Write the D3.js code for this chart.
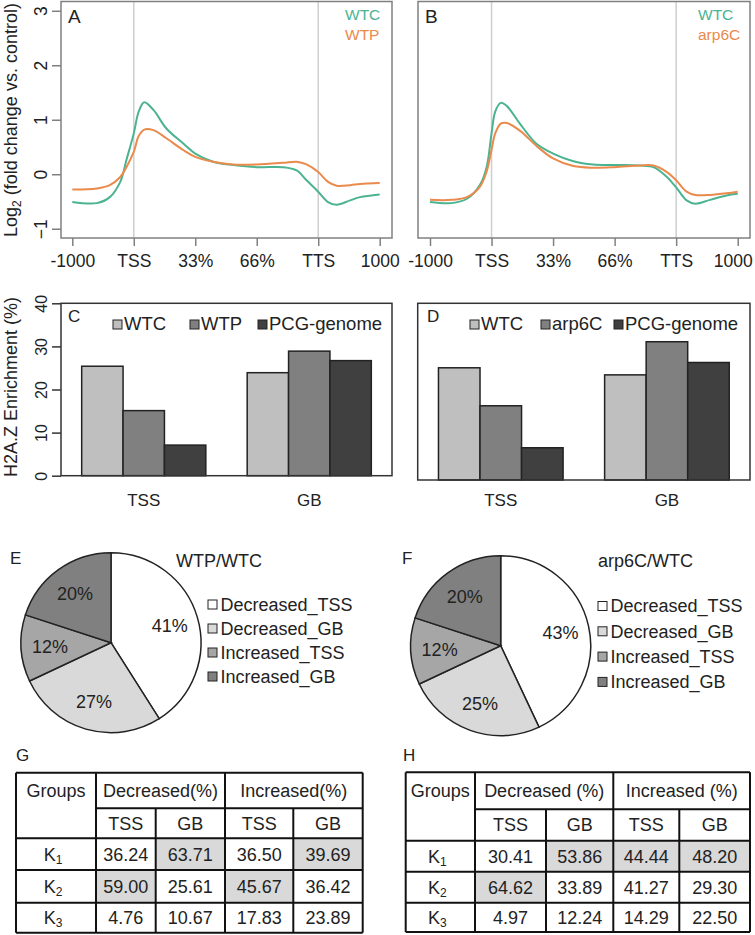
<!DOCTYPE html>
<html>
<head>
<meta charset="utf-8">
<script src="https://d3js.org/d3.v7.min.js"></script>
<style>
  body { margin: 0; background: #fff; }
  svg { display: block; font-family: "Liberation Sans", Arial, sans-serif; }
  text { fill: #222; }
</style>
</head>
<body>
<svg width="755" height="935"></svg>
<script>
/// data

// A / B : metagene profiles (x in tick units, 0 = -1000 ... 5 = +1000)
var profileTicks = ["-1000", "TSS", "33%", "66%", "TTS", "1000"];
var posA = [0, 0.4, 0.61, 0.78, 0.88, 1.0, 1.08, 1.17, 1.32, 1.53, 1.81, 2.0, 2.29, 2.62, 3.0, 3.43, 3.65, 3.81, 4.0, 4.16, 4.3, 4.52, 4.68, 5.0];
var wtcA = [-0.51, -0.53, -0.42, -0.14, 0.26, 0.75, 1.15, 1.32, 1.18, 0.84, 0.56, 0.38, 0.23, 0.17, 0.13, 0.13, 0.07, -0.11, -0.32, -0.51, -0.56, -0.48, -0.42, -0.37];
var wtpA = [-0.28, -0.26, -0.2, -0.05, 0.13, 0.41, 0.7, 0.82, 0.81, 0.66, 0.44, 0.32, 0.23, 0.18, 0.18, 0.21, 0.23, 0.18, 0.04, -0.14, -0.21, -0.2, -0.18, -0.16];
var posB = [0, 0.35, 0.6, 0.81, 0.92, 1.0, 1.06, 1.15, 1.25, 1.46, 1.73, 2.0, 2.33, 2.65, 3.0, 3.41, 3.63, 3.85, 4.0, 4.17, 4.31, 4.55, 4.82, 5.0];
var wtcB = [-0.51, -0.53, -0.45, -0.2, 0.13, 0.75, 1.15, 1.31, 1.25, 0.93, 0.56, 0.38, 0.24, 0.18, 0.17, 0.16, 0.13, -0.05, -0.24, -0.48, -0.54, -0.47, -0.39, -0.36];
var arp6cB = [-0.47, -0.47, -0.42, -0.23, 0.05, 0.45, 0.75, 0.93, 0.94, 0.8, 0.52, 0.29, 0.15, 0.12, 0.13, 0.16, 0.16, 0.04, -0.11, -0.32, -0.38, -0.38, -0.35, -0.32];
var profileYTicks = [-1, 0, 1, 2, 3];

// C / D : H2A.Z enrichment (%)
var barGroups = ["TSS", "GB"];
var barSeriesC = ["WTC", "WTP", "PCG-genome"];
var barValuesC = [[25.4, 15.1, 7.1], [23.9, 28.9, 26.7]];
var barSeriesD = ["WTC", "arp6C", "PCG-genome"];
var barValuesD = [[25.4, 16.8, 7.3], [23.8, 31.3, 26.6]];
var barTicks = [0, 10, 20, 30, 40];

// E / F : pie shares (%)
var pieCategories = ["Decreased_TSS", "Decreased_GB", "Increased_TSS", "Increased_GB"];
var pieE = [41, 27, 12, 20];
var pieF = [43, 25, 12, 20];

// G / H : tables
var tableGroups = ["1", "2", "3"];          // K subscripts
var tableSub = ["TSS", "GB", "TSS", "GB"];
var headG = ["Decreased(%)", "Increased(%)"];
var headH = ["Decreased (%)", "Increased (%)"];
var tableG = [["36.24", "63.71", "36.50", "39.69"],
              ["59.00", "25.61", "45.67", "36.42"],
              ["4.76", "10.67", "17.83", "23.89"]];
var tableH = [["30.41", "53.86", "44.44", "48.20"],
              ["64.62", "33.89", "41.27", "29.30"],
              ["4.97", "12.24", "14.29", "22.50"]];
var shadeG = [[0, 1, 0, 1], [1, 0, 1, 0], [0, 0, 0, 0]];
var shadeH = [[0, 1, 1, 1], [1, 0, 0, 0], [0, 0, 0, 0]];

var lineColors = ["#4cb391", "#ea8a4c"];
var barColors = ["#bfbfbf", "#808080", "#404040"];
var pieColors = ["#ffffff", "#d9d9d9", "#a6a6a6", "#808080"];

var svg = d3.select("svg");

/// profile panels
function drawProfile(o) {
  var g = svg.append("g");
  var x = d3.scaleLinear().domain([0, 5]).range(o.xr);
  var y = d3.scaleLinear().domain([-1.17, 3.17]).range([238, 1.5]);

  // TSS / TTS guides
  g.selectAll("line.guide")
    .data([1, 4])
    .enter().append("line")
      .attr("x1", function(d) { return x(d); })
      .attr("x2", function(d) { return x(d); })
      .attr("y1", 1.5).attr("y2", 238)
      .style("stroke", "#cfcfcf").style("stroke-width", 1.5);

  var line = d3.line()
      .x(function(d, i) { return x(o.pos[i]); })
      .y(function(d) { return y(d); })
      .curve(d3.curveCatmullRom.alpha(0.5));

  g.selectAll("path.series")
    .data(o.series)
    .enter().append("path")
      .attr("d", line)
      .style("fill", "none")
      .style("stroke", function(d, i) { return lineColors[i]; })
      .style("stroke-width", 2);

  g.append("rect")
      .attr("x", o.box[0]).attr("y", 1.5)
      .attr("width", o.box[1] - o.box[0]).attr("height", 236.5)
      .style("fill", "none").style("stroke", "#808080").style("stroke-width", 1.5);

  var xa = g.append("g")
      .attr("transform", "translate(0,238)")
      .call(d3.axisBottom(x).tickValues([0, 1, 2, 3, 4, 5])
        .tickFormat(function(d) { return profileTicks[d]; })
        .tickSize(8).tickPadding(9).tickSizeOuter(0));
  xa.select(".domain").remove();
  xa.selectAll("line").style("stroke", "#808080").style("stroke-width", 1.5);
  xa.selectAll("text").style("font-size", "17.5px").style("fill", "#222");
  // keep the last label inside the page
  xa.selectAll("text").each(function() {
    var b = this.getBBox(), gx = +this.parentNode.getAttribute("transform").match(/translate\(([-\d.]+)/)[1];
    var over = gx + b.x + b.width - 753;
    if (over > 0) d3.select(this).attr("x", -over);
  });

  if (o.yAxis) {
    var ya = g.append("g")
        .attr("transform", "translate(" + o.box[0] + ",0)")
        .call(d3.axisLeft(y).tickValues(profileYTicks).tickFormat(d3.format("d"))
          .tickSize(9).tickSizeOuter(0));
    ya.select(".domain").remove();
    ya.selectAll("line").style("stroke", "#808080").style("stroke-width", 1.5);
    ya.selectAll("text")
        .attr("x", null).attr("dy", "0.35em")
        .attr("text-anchor", "middle")
        .attr("transform", "translate(-20,0) rotate(-90)")
        .style("font-size", "17.5px").style("fill", "#222");

    var t = g.append("text")
        .attr("transform", "translate(11,120) rotate(-90)")
        .attr("dy", "0.35em")
        .attr("text-anchor", "middle")
        .style("font-size", "18px");
    t.append("tspan").text("Log");
    t.append("tspan").attr("dy", "0.3em").style("font-size", "12px").text("2");
    t.append("tspan").attr("dy", "-0.2em").text(" (fold change vs. control)");
  }

  g.append("text").attr("x", o.box[0] + 7).attr("y", 23)
      .style("font-size", "19px").text(o.letter);

  g.selectAll("text.leg")
    .data(o.names)
    .enter().append("text")
      .attr("x", o.legX)
      .attr("y", function(d, i) { return 20 + i * 19.5; })
      .style("font-size", "15.5px")
      .style("fill", function(d, i) { return lineColors[i]; })
      .text(function(d) { return d; });
}

drawProfile({ box: [61, 392], xr: [72.3, 379.7], pos: posA, series: [wtcA, wtpA],
  names: ["WTC", "WTP"], legX: 345, letter: "A", yAxis: true });
drawProfile({ box: [418, 750], xr: [430, 737.7], pos: posB, series: [wtcB, arp6cB],
  names: ["WTC", "arp6C"], legX: 698, letter: "B", yAxis: false });

/// bar panels
function drawBars(o) {
  var g = svg.append("g");
  var top = 303.3;
  var x = d3.scaleLinear().domain([0.5, 8.5]).range([o.left, o.right]);
  var y = d3.scaleLinear().domain([0, 40]).range([o.bottom, top]);

  var grp = g.selectAll("g.grp")
    .data(o.values)
    .enter().append("g");

  grp.selectAll("rect")
    .data(function(d, gi) { return d.map(function(v, si) { return { v: v, gi: gi, si: si }; }); })
    .enter().append("rect")
      .attr("x", function(d) { return x(1 + d.gi * 4 + d.si); })
      .attr("width", function(d) { return x(2) - x(1); })
      .attr("y", function(d) { return y(d.v); })
      .attr("height", function(d) { return y(0) - y(d.v); })
      .style("fill", function(d) { return barColors[d.si]; })
      .style("stroke", "#222").style("stroke-width", 1.5);

  g.append("rect")
      .attr("x", o.left).attr("y", top)
      .attr("width", o.right - o.left).attr("height", o.bottom - top)
      .style("fill", "none").style("stroke", "#333").style("stroke-width", 1.5);

  g.selectAll("text.cat")
    .data(barGroups)
    .enter().append("text")
      .attr("x", function(d, i) { return x(2.5 + i * 4); })
      .attr("y", 506)
      .attr("text-anchor", "middle")
      .style("font-size", "17px")
      .text(function(d) { return d; });

  if (o.yAxis) {
    var ya = g.append("g")
        .attr("transform", "translate(" + o.left + ",0)")
        .call(d3.axisLeft(y).tickValues(barTicks).tickFormat(d3.format("d"))
          .tickSize(9).tickSizeOuter(0));
    ya.select(".domain").remove();
    ya.selectAll("line").style("stroke", "#333").style("stroke-width", 1.5);
    ya.selectAll("text")
        .attr("x", null).attr("dy", "0.35em")
        .attr("text-anchor", "middle")
        .attr("transform", "translate(-20,0) rotate(-90)")
        .style("font-size", "16px").style("fill", "#222");
    g.append("text")
        .attr("transform", "translate(11,387) rotate(-90)")
        .attr("dy", "0.35em")
        .attr("text-anchor", "middle")
        .style("font-size", "18px")
        .text("H2A.Z Enrichment (%)");
  }

  g.append("text").attr("x", o.letterX).attr("y", 322)
      .style("font-size", "17px").text(o.letter);

  var leg = g.selectAll("g.leg")
    .data(o.series)
    .enter().append("g")
      .attr("transform", function(d, i) { return "translate(" + o.legX[i] + ",320)"; });
  leg.append("rect")
      .attr("width", 9).attr("height", 9)
      .style("fill", function(d, i) { return barColors[i]; })
      .style("stroke", "#222").style("stroke-width", 1);
  leg.append("text")
      .attr("x", 11).attr("y", 9.5)
      .style("font-size", "18.5px")
      .text(function(d) { return d; });
}

drawBars({ left: 61, right: 392, bottom: 475.7, values: barValuesC, series: barSeriesC,
  legX: [113, 190, 258], letter: "C", letterX: 68, yAxis: true });
drawBars({ left: 417.7, right: 750, bottom: 480, values: barValuesD, series: barSeriesD,
  legX: [470, 541, 614], letter: "D", letterX: 427, yAxis: false });

/// pie panels
function drawPie(o) {
  var g = svg.append("g").attr("transform", "translate(" + o.cx + "," + o.cy + ")");
  var r = 90;
  var arcs = d3.pie().sort(null)(o.values);
  var arc = d3.arc().innerRadius(0).outerRadius(r);
  var labelArc = d3.arc().innerRadius(r * 0.68).outerRadius(r * 0.68);

  g.selectAll("path")
    .data(arcs)
    .enter().append("path")
      .attr("d", arc)
      .style("fill", function(d, i) { return pieColors[i]; })
      .style("stroke", "#222").style("stroke-width", 1.5);

  g.selectAll("text.pct")
    .data(arcs)
    .enter().append("text")
      .attr("transform", function(d) { return "translate(" + labelArc.centroid(d) + ")"; })
      .attr("text-anchor", "middle")
      .attr("dy", "0.35em")
      .style("font-size", "18px")
      .text(function(d) { return d.data + "%"; });

  svg.append("text").attr("x", o.letterX).attr("y", 564)
      .style("font-size", "17px").text(o.letter);
  svg.append("text").attr("x", o.titleX).attr("y", 567)
      .style("font-size", "18px").text(o.title);

  var leg = svg.selectAll("g.leg" + o.letter)
    .data(pieCategories)
    .enter().append("g")
      .attr("transform", function(d, i) { return "translate(" + o.legX + "," + (o.legY + i * o.legStep) + ")"; });
  leg.append("rect")
      .attr("x", 0).attr("y", -4.5)
      .attr("width", 9).attr("height", 9)
      .style("fill", function(d, i) { return pieColors[i]; })
      .style("stroke", "#222").style("stroke-width", 1);
  leg.append("text")
      .attr("x", 12.5).attr("dy", "0.36em")
      .style("font-size", "18px")
      .text(function(d) { return d; });
}

drawPie({ cx: 111, cy: 642.7, values: pieE, letter: "E", letterX: 10, title: "WTP/WTC",
  titleX: 176, legX: 208, legY: 604.5, legStep: 24 });
drawPie({ cx: 500.7, cy: 645.7, values: pieF, letter: "F", letterX: 402, title: "arp6C/WTC",
  titleX: 598, legX: 598, legY: 606, legStep: 25.3 });

/// tables
function drawTable(o) {
  var g = svg.append("g");
  var cx = o.cols, ry = o.rows;
  var fs = "18px";

  // body cells (rows 2..4, columns 1..4)
  var cells = [];
  o.values.forEach(function(row, ri) {
    row.forEach(function(v, ci) {
      cells.push({ v: v, r: ri + 2, c: ci + 1, shade: o.shade[ri][ci] });
    });
  });

  g.selectAll("rect.cell")
    .data(cells.filter(function(d) { return d.shade; }))
    .enter().append("rect")
      .attr("x", function(d) { return cx[d.c]; })
      .attr("y", function(d) { return ry[d.r]; })
      .attr("width", function(d) { return cx[d.c + 1] - cx[d.c]; })
      .attr("height", function(d) { return ry[d.r + 1] - ry[d.r]; })
      .style("fill", "#d9d9d9");

  g.selectAll("text.val")
    .data(cells)
    .enter().append("text")
      .attr("x", function(d) { return (cx[d.c] + cx[d.c + 1]) / 2; })
      .attr("y", function(d) { return (ry[d.r] + ry[d.r + 1]) / 2; })
      .attr("dy", "0.36em")
      .attr("text-anchor", "middle")
      .style("font-size", fs)
      .text(function(d) { return d.v; });

  // header
  g.append("text")
      .attr("x", (cx[0] + cx[1]) / 2).attr("y", (ry[0] + ry[1]) / 2)
      .attr("dy", "0.36em").attr("text-anchor", "middle")
      .style("font-size", fs).text("Groups");
  g.selectAll("text.head")
    .data(o.head)
    .enter().append("text")
      .attr("x", function(d, i) { return (cx[1 + i * 2] + cx[3 + i * 2]) / 2; })
      .attr("y", (ry[0] + ry[1]) / 2)
      .attr("dy", "0.36em").attr("text-anchor", "middle")
      .style("font-size", fs)
      .text(function(d) { return d; });
  g.selectAll("text.sub")
    .data(tableSub)
    .enter().append("text")
      .attr("x", function(d, i) { return (cx[i + 1] + cx[i + 2]) / 2; })
      .attr("y", (ry[1] + ry[2]) / 2)
      .attr("dy", "0.36em").attr("text-anchor", "middle")
      .style("font-size", fs)
      .text(function(d) { return d; });

  // K1..K3
  var k = g.selectAll("text.grp")
    .data(tableGroups)
    .enter().append("text")
      .attr("x", (cx[0] + cx[1]) / 2 - 3)
      .attr("y", function(d, i) { return (ry[i + 2] + ry[i + 3]) / 2; })
      .attr("dy", "0.36em").attr("text-anchor", "middle")
      .style("font-size", fs);
  k.append("tspan").text("K");
  k.append("tspan").attr("dy", "0.25em").style("font-size", "12px").text(function(d) { return d; });

  // grid lines
  g.selectAll("line.h")
    .data([0, 1, 2, 3, 4, 5])
    .enter().append("line")
      .attr("x1", function(d) { return d === 1 ? cx[1] : cx[0]; })
      .attr("x2", cx[5])
      .attr("y1", function(d) { return ry[d]; })
      .attr("y2", function(d) { return ry[d]; })
      .style("stroke", "#111").style("stroke-width", 2);
  g.selectAll("line.v")
    .data([0, 1, 2, 3, 4, 5])
    .enter().append("line")
      .attr("x1", function(d) { return cx[d]; })
      .attr("x2", function(d) { return cx[d]; })
      .attr("y1", function(d) { return (d === 2 || d === 4) ? ry[1] : ry[0]; })
      .attr("y2", ry[5])
      .style("stroke", "#111").style("stroke-width", 2);

  svg.append("text").attr("x", o.letterX).attr("y", 761)
      .style("font-size", "17px").text(o.letter);
}

drawTable({ cols: [16, 96, 155.7, 225, 293.3, 362.7], rows: [772.7, 808.3, 838.3, 870, 902.7, 932.7],
  values: tableG, shade: shadeG, head: headG, letter: "G", letterX: 16 });
drawTable({ cols: [405.7, 475, 546, 613.3, 679.3, 750], rows: [772.3, 809.3, 840.7, 871.7, 902.7, 932],
  values: tableH, shade: shadeH, head: headH, letter: "H", letterX: 403 });
</script>
</body>
</html>
